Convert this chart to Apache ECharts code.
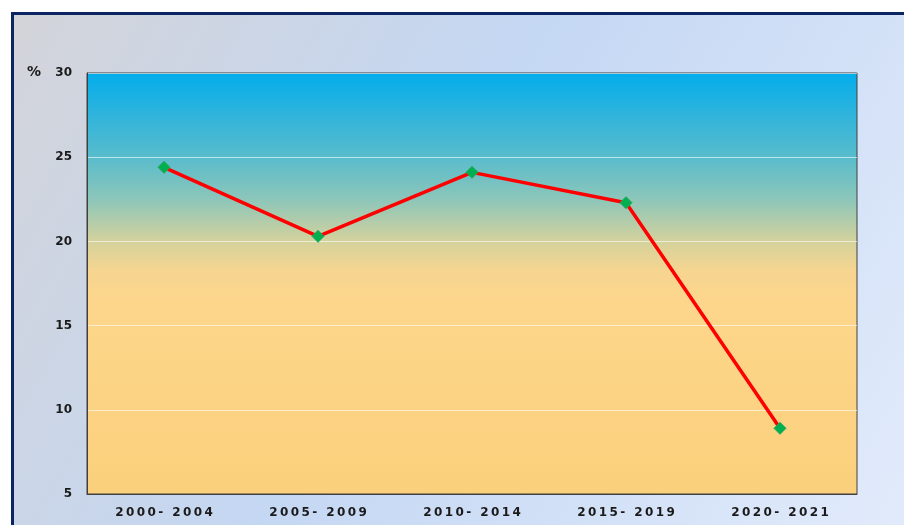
<!DOCTYPE html>
<html><head><meta charset="utf-8">
<script src="https://cdn.jsdelivr.net/npm/echarts@6/dist/echarts.min.js"></script>
<style>html,body{margin:0;padding:0;background:#fff}#c{width:904px;height:525px}</style>
</head><body><div id="c"></div>
<script>
const categories = ['2000- 2004', '2005- 2009', '2010- 2014', '2015- 2019', '2020- 2021'];
const values = [24.4, 20.3, 24.1, 22.3, 8.9];
const yTicks = { min: 5, max: 30, interval: 5 };
const unitLabel = '%';

const chart = echarts.init(document.getElementById('c'));
const G = echarts.graphic;
chart.setOption({
  backgroundColor: '#ffffff',
  animation: false,
  graphic: [
    { type: 'rect', z: -10, silent: true,
      shape: { x: 12.5, y: 13.5, width: 900, height: 520 },
      style: { stroke: '#0b2462', lineWidth: 3,
        fill: new G.LinearGradient(0, 0, 1, 1, [
          { offset: 0, color: '#d3d4d9' },
          { offset: 0.45, color: '#c4d7f3' },
          { offset: 1, color: '#e2ebfb' }
        ]) } },
    { type: 'text', left: 27, top: 65, style: { text: unitLabel, font: 'bold 14px "DejaVu Sans", Verdana, sans-serif', fill: '#1a1a1a' } }
  ],
  grid: { left: 87, right: 47, top: 73, bottom: 31, show: true,
    borderColor: '#404040', borderWidth: 1,
    backgroundColor: new G.LinearGradient(0, 0, 0, 1, [
      { offset: 0, color: '#02adec' },
      { offset: 0.1, color: '#2fb4dc' },
      { offset: 0.2, color: '#58bccc' },
      { offset: 0.3, color: '#8cc6ba' },
      { offset: 0.4, color: '#d4d29c' },
      { offset: 0.47, color: '#f6d590' },
      { offset: 0.55, color: '#fdd68b' },
      { offset: 1, color: '#fbd07c' }
    ]) },
  xAxis: { type: 'category', data: categories, boundaryGap: true,
    axisLine: { show: true, lineStyle: { color: '#404040', width: 1 } }, axisTick: { show: false },
    axisLabel: { margin: 13, color: '#1a1a1a', fontWeight: 'bold', fontSize: 12, fontFamily: '"DejaVu Sans", Verdana, sans-serif',
      formatter: v => v.split('').join('\u2009') },
    splitLine: { show: false } },
  yAxis: { type: 'value', min: yTicks.min, max: yTicks.max, interval: yTicks.interval,
    axisLine: { show: true, lineStyle: { color: '#404040', width: 1 } }, axisTick: { show: false },
    axisLabel: { margin: 15, color: '#1a1a1a', fontWeight: 'bold', fontSize: 12, fontFamily: '"DejaVu Sans", Verdana, sans-serif' },
    splitLine: { show: true, lineStyle: { color: 'rgba(255,255,255,0.6)', width: 1 } } },
  series: [{ type: 'line', data: values, symbol: 'diamond', symbolSize: 12,
    lineStyle: { color: '#ff0000', width: 3.5 },
    itemStyle: { color: '#00b050', borderColor: '#22a860', borderWidth: 1 } }]
});
</script></body></html>
